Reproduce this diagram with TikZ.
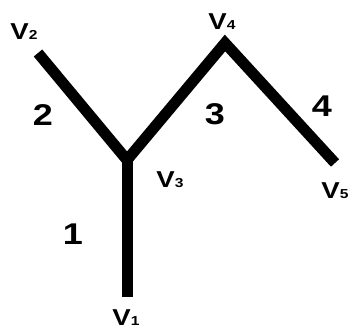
\documentclass[tikz,border=0pt]{standalone}
\usepackage{fontspec}
\setmainfont{Liberation Sans}
\begin{document}
\begin{tikzpicture}[x=1pt,y=-1pt,
  edge/.style={line width=11pt,line join=miter,line cap=butt},
  vlab/.style={font=\bfseries\fontsize{23}{23}\selectfont,inner sep=0pt,anchor=center,xscale=1.2},
  elab/.style={font=\bfseries\fontsize{30}{30}\selectfont,inner sep=0pt,anchor=center,xscale=1.2}]
\useasboundingbox (0,0) rectangle (350,331);
\coordinate (v1) at (127,297);
\coordinate (v3) at (127,160);
\coordinate (v2) at (38,53);
\coordinate (v4) at (225,43);
\coordinate (v5) at (335,163);
\draw[edge] (v2) -- (v3) -- (v4) -- (v5);
\draw[edge] (v3) -- (v1);
\newcommand{\vl}[1]{V{\fontsize{13}{13}\selectfont #1}}
\node[vlab] (l2) at (24,32) {\vl{2}};
\node[vlab] (l4) at (222,22) {\vl{4}};
\node[vlab] (l3) at (170,180) {\vl{3}};
\node[vlab] (l5) at (335,191) {\vl{5}};
\node[vlab] (l1) at (126,318) {\vl{1}};
\node[elab] (e1) at (73,234) {1};
\node[elab] (e2) at (43,115) {2};
\node[elab] (e3) at (215,114) {3};
\node[elab] (e4) at (322,106) {4};
\end{tikzpicture}
\end{document}
